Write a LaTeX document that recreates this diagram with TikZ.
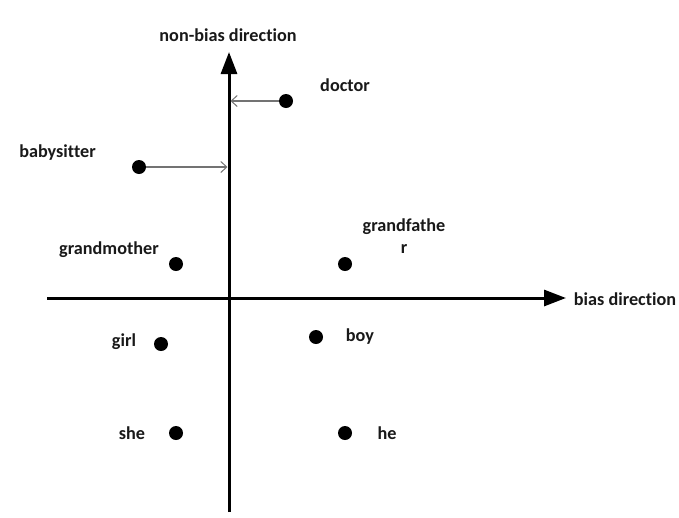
\documentclass[tikz,border=0pt]{standalone}
\usepackage{fontspec}
\setmainfont{Carlito}[RawFeature=-liga]
\usetikzlibrary{arrows.meta}
\begin{document}
\begin{tikzpicture}[x=1pt,y=-1pt,
  lbl/.style={font=\fontsize{18.2}{22}\selectfont\bfseries, inner sep=0pt, text=black!90},
  pt/.style={circle, fill=black, minimum size=14pt, inner sep=0pt},
  axis/.style={line width=3pt, -{Triangle[length=22pt,width=16pt]}},
  proj/.style={draw=black!55, line width=1.3pt, -{Straight Barb[length=6pt,width=11pt,line width=1pt]}}]
\useasboundingbox (0,0) rectangle (679,517);
\fill[white] (0,0) rectangle (679,517);
% axes
\coordinate (vb) at (229,512);
\coordinate (vt) at (229,52);
\coordinate (hl) at (47,298);
\coordinate (hr) at (566,298);
\draw[axis] (vb) -- (vt);
\draw[axis] (hl) -- (hr);
\node[lbl] (nbd) at (228,35) {non-bias direction};
\node[lbl] (bd) at (625,299) {bias direction};
% points
\node[pt] (doctor) at (286,101) {};
\node[pt] (babysitter) at (139,167) {};
\node[pt] (grandmother) at (176,264) {};
\node[pt] (grandfather) at (345,264) {};
\node[pt] (girl) at (161,344) {};
\node[pt] (boy) at (316,337) {};
\node[pt] (she) at (176,433) {};
\node[pt] (he) at (345,433) {};
% projections
\coordinate (dproj) at (230.5,101);
\coordinate (bproj) at (227.5,167);
\draw[proj] (doctor) -- (dproj);
\draw[proj] (babysitter) -- (bproj);
% labels
\node[lbl] (ldoctor) at (345,85) {doctor};
\node[lbl] (lbaby) at (57.5,153) {babysitter};
\node[lbl] (lgm) at (109,250) {grandmother};
\node[lbl, align=center, anchor=north] (lgf) at (404,219) {grandfathe\\r};
\node[lbl] (lgirl) at (124,342) {girl};
\node[lbl] (lboy) at (360,337) {boy};
\node[lbl] (lshe) at (132,433) {she};
\node[lbl] (lhe) at (387,433) {he};
\end{tikzpicture}
\end{document}
